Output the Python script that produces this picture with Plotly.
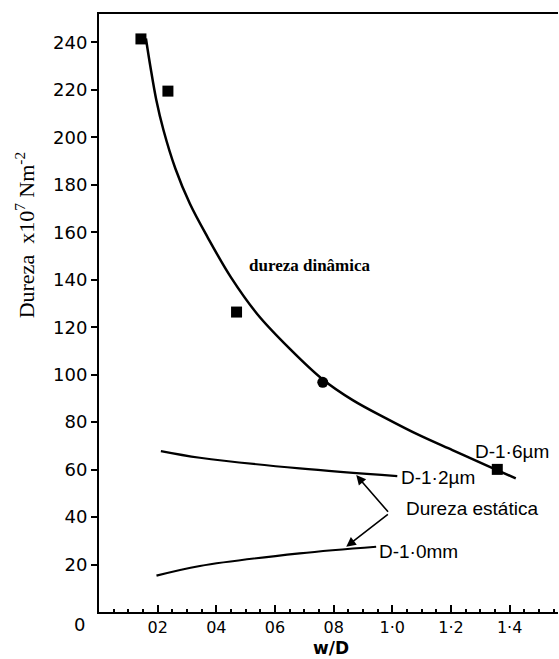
import plotly.graph_objects as go

# Measured hardness points (w/D, hardness x10^7 N m^-2)
wd_points = [0.143, 0.235, 0.469, 0.763, 1.358]
hard_points = [241.5, 219.5, 126.4, 96.8, 60.1]
point_symbols = ["square", "square", "square", "circle", "square"]

# Dynamic hardness curve
dyn_wd = [0.160, 0.175, 0.195, 0.220, 0.260, 0.310, 0.370, 0.450, 0.540,
          0.650, 0.763, 0.865, 0.979, 1.092, 1.205, 1.319, 1.421]
dyn_hard = [241.7, 230.0, 216.0, 203.0, 187.0, 172.0, 158.0, 141.0, 125.5,
            111.0, 98.0, 89.3, 81.6, 74.5, 68.2, 61.9, 56.3]

# Static hardness lines
stat12_wd = [0.211, 0.344, 0.684, 1.017]
stat12_hard = [67.8, 65.0, 60.5, 57.3]
stat10_wd = [0.196, 0.344, 0.684, 0.945]
stat10_hard = [15.3, 19.4, 24.7, 27.5]

# Axis ticks
x_tickvals = [0.2, 0.4, 0.6, 0.8, 1.0, 1.2, 1.4]
x_ticktext = ["02", "04", "06", "08", "1·0", "1·2", "1·4"]
y_tickvals = [20, 40, 60, 80, 100, 120, 140, 160, 180, 200, 220, 240]
y_ticktext = [str(v) for v in y_tickvals]

sans = "Liberation Sans"
wide = "DejaVu Sans"
serif = "Liberation Serif"

fig = go.Figure()

fig.add_trace(go.Scatter(x=dyn_wd, y=dyn_hard, mode="lines",
                         line=dict(color="black", width=2.5, shape="spline", smoothing=1.0),
                         hoverinfo="skip", showlegend=False))
fig.add_trace(go.Scatter(x=stat12_wd, y=stat12_hard, mode="lines",
                         line=dict(color="black", width=2.2, shape="spline"),
                         showlegend=False))
fig.add_trace(go.Scatter(x=stat10_wd, y=stat10_hard, mode="lines",
                         line=dict(color="black", width=2.2, shape="spline"),
                         showlegend=False))
fig.add_trace(go.Scatter(x=wd_points, y=hard_points, mode="markers",
                         marker=dict(symbol=point_symbols, size=11, color="black"),
                         showlegend=False))

# Labels on the plot
labels = [
    ("<b>dureza dinâmica</b>", 0.721, 146.1, "center", serif, 17),
    ("D-1·6µm", 1.408, 67.5, "center", sans, 19),
    ("D-1·2µm", 1.024, 56.8, "left", sans, 19),
    ("D-1·0mm", 0.949, 25.4, "left", sans, 19),
    ("Dureza estática", 1.041, 43.7, "left", sans, 19),
]
for text, x, y, anchor, fam, size in labels:
    fig.add_annotation(x=x, y=y, xref="x", yref="y", text=text, showarrow=False,
                       xanchor=anchor, yanchor="middle",
                       font=dict(family=fam, size=size, color="black"))

# Arrows from the static-hardness label to both lines
vertex = (0.990, 41.6)
for tx, ty in [(0.877, 57.7), (0.843, 27.5)]:
    fig.add_annotation(x=tx, y=ty, ax=vertex[0], ay=vertex[1], xref="x", yref="y",
                       axref="x", ayref="y", text="", showarrow=True,
                       arrowhead=2, arrowsize=1.2, arrowwidth=1.6, arrowcolor="black")

# Origin label
fig.add_annotation(x=0, y=0, xref="x", yref="y", text="0", showarrow=False,
                   xshift=-20, yshift=-12, font=dict(family=wide, size=18, color="black"))

# Axis titles
fig.add_annotation(xref="paper", yref="paper", x=-0.161, y=0.63,
                   text="Dureza  x10<sup>7</sup> Nm<sup>-2</sup>", textangle=-90,
                   showarrow=False, xanchor="center", yanchor="middle",
                   font=dict(family=serif, size=22, color="black"))
fig.add_annotation(xref="paper", yref="paper", x=0.505, y=-0.0786,
                   text="<b>w/D</b>", showarrow=False, xanchor="center", yanchor="bottom",
                   borderpad=0, font=dict(family=wide, size=17, color="black"))

fig.update_xaxes(range=[0, 1.565], tickvals=x_tickvals, ticktext=x_ticktext,
                 ticks="inside", ticklen=7, tickwidth=1.5, tickcolor="black",
                 showline=True, linecolor="black", linewidth=2, mirror=True,
                 showgrid=False, zeroline=False,
                 tickfont=dict(family=wide, size=16, color="black"),
                 minor=dict(ticks="inside", ticklen=3, dtick=0.05, tickcolor="black", showgrid=False))
fig.update_yaxes(range=[0, 252], tickvals=y_tickvals, ticktext=y_ticktext,
                 ticks="outside", ticklen=6, tickwidth=1.5, tickcolor="black",
                 showline=True, linecolor="black", linewidth=2,
                 showgrid=False, zeroline=False,
                 tickfont=dict(family=wide, size=18, color="black"))

fig.update_layout(width=559, height=659,
                  margin=dict(l=99, r=1, t=14, b=47),
                  plot_bgcolor="white", paper_bgcolor="white")

fig.write_html("out.html")
